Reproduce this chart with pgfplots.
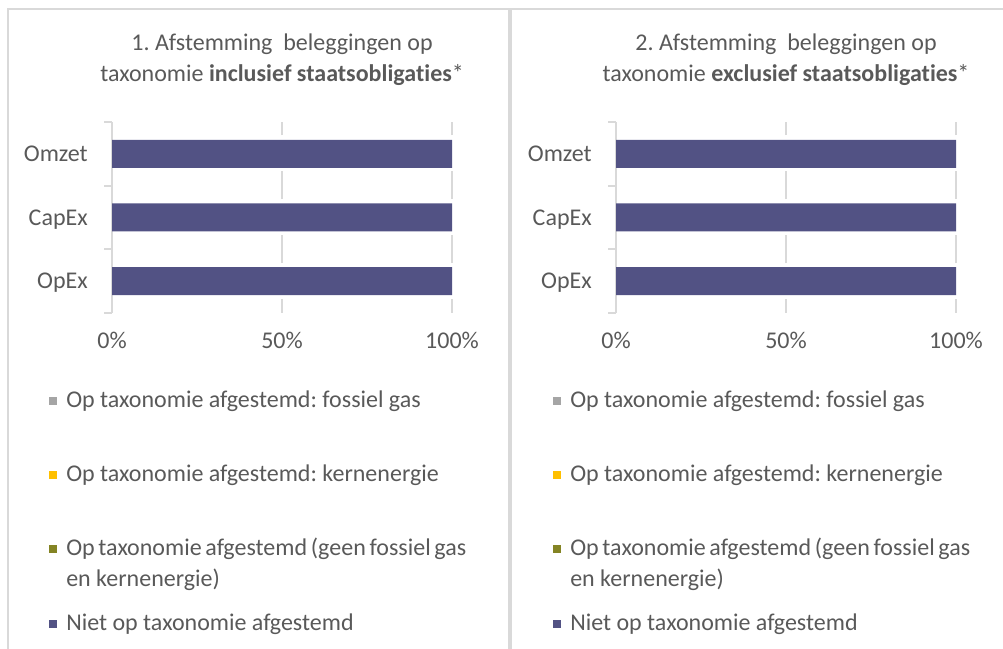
\documentclass[border=0pt]{standalone}
\usepackage{fontspec}
\setmainfont{Carlito}[Ligatures={NoCommon}]
\usepackage{pgfplots}
\usepackage{pgfplotstable}
\pgfplotsset{compat=1.18}
\definecolor{txt}{HTML}{595959}
\definecolor{axg}{HTML}{D9D9D9}
\definecolor{navy}{RGB}{82,82,132}
\definecolor{lgray}{HTML}{A5A5A5}
\definecolor{lyellow}{HTML}{FFC000}
\definecolor{olivec}{RGB}{132,132,36}
\newcommand{\fs}{\fontsize{18}{23}\selectfont}
\frenchspacing

% inclusief staatsobligaties (0 = OpEx, 1 = CapEx, 2 = Omzet)
\pgfplotstableread{
cat fossiel kern overig niet
0 0 0 0 100
1 0 0 0 100
2 0 0 0 100
}\datincl
% exclusief staatsobligaties
\pgfplotstableread{
cat fossiel kern overig niet
0 0 0 0 100
1 0 0 0 100
2 0 0 0 100
}\datexcl

\pgfplotsset{
  panel/.style={
    scale only axis, width=255pt, height=143.25pt,
    anchor=south west,
    xbar stacked, bar width=21pt,
    xmin=0, xmax=100, ymin=-0.5, ymax=2.5,
    xtick={0,50,100}, xticklabels={0\%,50\%,100\%},
    ytick={0,1,2}, yticklabels={OpEx,CapEx,Omzet},
    minor ytick={-0.5,0.5,1.5,2.5},
    major tick length=0pt, minor tick length=6pt, tick align=outside,
    xtick pos=bottom, ytick pos=left,
    minor y tick style={axg, line width=1.5pt},
    axis y line*=left, axis x line*=bottom,
    x axis line style={draw=none},
    y axis line style={axg, line width=1.5pt, -},
    xmajorgrids,
    major grid style={axg, line width=1.5pt, dash pattern=on 21pt off 27pt, dash phase=10.6pt},
    xticklabel style={font=\fs, text=txt, anchor=base, inner sep=0pt, yshift=-27pt},
    yticklabel style={font=\fs, text=txt, anchor=east, inner sep=0pt, xshift=-18pt, text height=11.5pt, text depth=0pt},
    title style={at={(axis description cs:0.5,1.42)}, anchor=north, align=center, text=txt, font=\fs, inner sep=0pt},
    legend style={at={(axis description cs:-0.1853,-0.412)}, anchor=north west, draw=none, fill=none,
      inner sep=0pt, row sep=42.2pt, column sep=6.75pt,
      nodes={inner sep=0pt, text height=11.5pt, text depth=2pt, anchor=west, text=txt, font=\fs}},
    legend cell align=left,
    legend image code/.code={\fill[##1] (0pt,-3pt) rectangle (6pt,3pt);},
  }
}

\begin{document}
\begin{tikzpicture}
\useasboundingbox (0,0) rectangle (752.25pt,486.75pt);
\draw[axg, line width=1.5pt] (6pt,0pt) -- (6pt,480pt) -- (381.75pt,480pt) -- (381.75pt,0pt);
\draw[axg, line width=1.5pt] (383.6pt,0pt) -- (383.6pt,480pt) -- (752.25pt,480pt);

\begin{axis}[panel, at={(84pt,252pt)},
  title={1. Afstemming\ \ beleggingen op\\taxonomie \textbf{inclusief staatsobligaties}*}]
\addplot[fill=lgray, draw=none] table[x=fossiel, y=cat]{\datincl};
\addlegendentry{Op taxonomie afgestemd: fossiel gas}
\addplot[fill=lyellow, draw=none] table[x=kern, y=cat]{\datincl};
\addlegendentry{Op taxonomie afgestemd: kernenergie}
\addplot[fill=olivec, draw=none] table[x=overig, y=cat]{\datincl};
\addlegendentry{\parbox[t]{300pt}{Op taxonomie afgestemd (geen fossiel gas\\en kernenergie)}}
\addplot[fill=navy, draw=none] table[x=niet, y=cat]{\datincl};
\addlegendentry{Niet op taxonomie afgestemd}
\end{axis}

\begin{axis}[panel, at={(462pt,252pt)},
  title={2. Afstemming\ \ beleggingen op\\taxonomie \textbf{exclusief staatsobligaties}*}]
\addplot[fill=lgray, draw=none] table[x=fossiel, y=cat]{\datexcl};
\addlegendentry{Op taxonomie afgestemd: fossiel gas}
\addplot[fill=lyellow, draw=none] table[x=kern, y=cat]{\datexcl};
\addlegendentry{Op taxonomie afgestemd: kernenergie}
\addplot[fill=olivec, draw=none] table[x=overig, y=cat]{\datexcl};
\addlegendentry{\parbox[t]{300pt}{Op taxonomie afgestemd (geen fossiel gas\\en kernenergie)}}
\addplot[fill=navy, draw=none] table[x=niet, y=cat]{\datexcl};
\addlegendentry{Niet op taxonomie afgestemd}
\end{axis}
\end{tikzpicture}
\end{document}
